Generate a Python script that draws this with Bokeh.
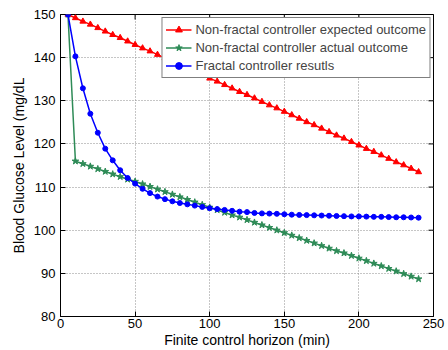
import math
from bokeh.plotting import figure
from bokeh.models import Legend, LegendItem, FixedTicker, Range1d
from bokeh.embed import file_html
from bokeh.resources import INLINE

horizon = [5, 10, 15, 20, 25, 30, 35, 40, 45, 50, 55, 60, 65, 70, 75, 80,
           85, 90, 95, 100, 105, 110, 115, 120, 125, 130, 135, 140, 145, 150,
           155, 160, 165, 170, 175, 180, 185, 190, 195, 200, 205, 210, 215,
           220, 225, 230, 235, 240]

expected = [150.0, 149.2, 148.4, 147.7, 146.9, 146.1, 145.3, 144.6, 143.8,
            143.0, 142.2, 141.5, 140.7, 139.9, 139.1, 138.3, 137.6, 136.8,
            136.0, 135.2, 134.5, 133.7, 132.9, 132.1, 131.4, 130.6, 129.8,
            129.0, 128.3, 127.5, 126.7, 125.9, 125.1, 124.4, 123.6, 122.8,
            122.0, 121.3, 120.5, 119.7, 118.9, 118.2, 117.4, 116.6, 115.8,
            115.1, 114.3, 113.5]

actual = [150.0, 116.0, 115.4, 114.8, 114.2, 113.6, 113.0, 112.4, 111.8,
          111.3, 110.7, 110.1, 109.5, 108.9, 108.3, 107.7, 107.1, 106.5,
          105.9, 105.3, 104.7, 104.1, 103.5, 103.0, 102.4, 101.8, 101.2,
          100.6, 100.0, 99.4, 98.8, 98.2, 97.6, 97.0, 96.4, 95.8, 95.2,
          94.7, 94.1, 93.5, 92.9, 92.3, 91.7, 91.1, 90.5, 89.9, 89.3, 88.7]

fractal = [150.0, 140.3, 132.9, 127.0, 122.6, 118.9, 116.2, 113.9, 112.1,
           110.8, 109.6, 108.6, 107.8, 107.2, 106.7, 106.3, 106.0, 105.7,
           105.4, 105.1, 104.9, 104.7, 104.5, 104.3, 104.2, 104.0, 103.9,
           103.85, 103.8, 103.7, 103.6, 103.55, 103.5, 103.45, 103.4, 103.35,
           103.3, 103.25, 103.2, 103.2, 103.15, 103.1, 103.1, 103.05, 103.0,
           103.0, 102.95, 102.9]

x_ticks = [0, 50, 100, 150, 200, 250]
y_ticks = [80, 90, 100, 110, 120, 130, 140, 150]

labels = ["Non-fractal controller expected outcome",
          "Non-fractal controller actual outcome",
          "Fractal controller resutls"]

FONT = "Liberation Sans"

p = figure(width=448, height=350,
           x_range=Range1d(x_ticks[0], x_ticks[-1]),
           y_range=Range1d(y_ticks[0], y_ticks[-1]),
           output_backend="svg", toolbar_location=None,
           min_border_left=60, min_border_right=15, min_border_top=14, min_border_bottom=34)

p.outline_line_color = "black"
p.outline_line_width = 1

for ax in (p.xaxis[0], p.yaxis[0]):
    ax.major_tick_in = 5
    ax.major_tick_out = 0
    ax.minor_tick_line_color = None
    ax.axis_line_color = "black"
    ax.major_label_text_font = FONT
    ax.major_label_text_font_size = "13px"
    ax.major_label_text_color = "black"
    ax.axis_label_text_font = FONT
    ax.axis_label_text_font_size = "14px"
    ax.axis_label_text_font_style = "normal"
    ax.axis_label_text_color = "black"

p.xaxis.ticker = FixedTicker(ticks=x_ticks)
p.yaxis.ticker = FixedTicker(ticks=y_ticks)
p.xaxis.axis_label = "Finite control horizon (min)"
p.yaxis.axis_label = "Blood Glucose Level (mg/dL"
p.xaxis.major_label_standoff = 2
p.xaxis.axis_label_standoff = 1
p.yaxis.major_label_standoff = 5
p.yaxis.axis_label_standoff = 4

# inward tick marks on the top and right box edges (clipped to the frame)
p.scatter(x_ticks, [y_ticks[-1]] * len(x_ticks), marker="dash", angle=math.pi / 2,
          size=10, line_color="black", line_width=1)
p.scatter([x_ticks[-1]] * len(y_ticks), y_ticks, marker="dash",
          size=10, line_color="black", line_width=1)

p.xgrid.ticker = FixedTicker(ticks=x_ticks)
p.ygrid.ticker = FixedTicker(ticks=y_ticks)
for g in (p.xgrid[0], p.ygrid[0]):
    g.grid_line_color = "#8c8c8c"
    g.grid_line_dash = "1 2"
    g.grid_line_width = 1

red = "#ff0000"
green = "#2e8b57"
blue = "#0000ff"

r1l = p.line(horizon, expected, line_color=red, line_width=1.5)
r1s = p.scatter(horizon, expected, marker="triangle", size=6, fill_color=red, line_color=red)
r2l = p.line(horizon, actual, line_color=green, line_width=1.5)
r2s = p.scatter(horizon, actual, marker="star", size=7, fill_color=green, line_color=green)
r3l = p.line(horizon, fractal, line_color=blue, line_width=1.5)
r3s = p.scatter(horizon, fractal, marker="circle", size=5, fill_color=blue, line_color=blue)

legend = Legend(items=[LegendItem(label=labels[0], renderers=[r1l, r1s]),
                       LegendItem(label=labels[1], renderers=[r2l, r2s]),
                       LegendItem(label=labels[2], renderers=[r3l, r3s])],
                location="top_right", margin=3, padding=3, spacing=1,
                glyph_width=26, glyph_height=17, label_height=17, label_standoff=4,
                label_text_font=FONT, label_text_font_size="13px",
                border_line_color="black", border_line_width=1,
                background_fill_color="white", background_fill_alpha=1)
p.add_layout(legend)

open("out.html", "w").write(file_html(p, INLINE))
